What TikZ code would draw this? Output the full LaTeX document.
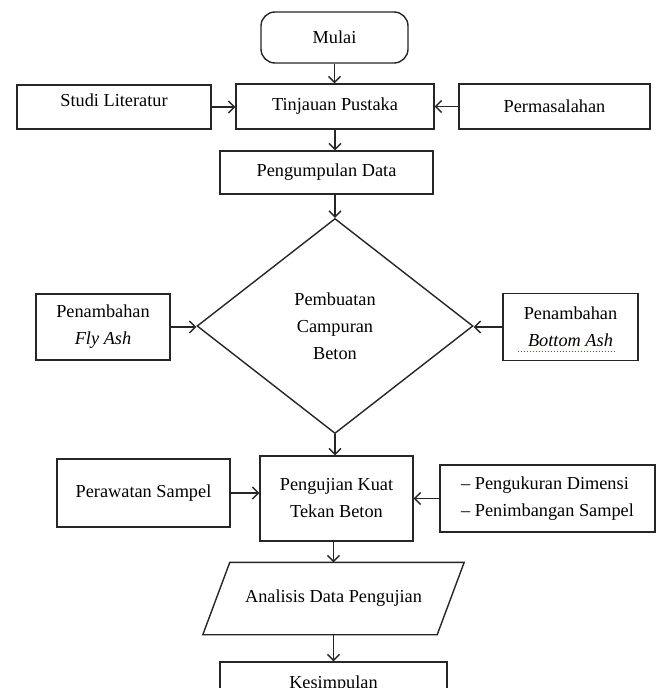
\documentclass[tikz,border=0pt]{standalone}
\usepackage{fontspec}
\setmainfont{Liberation Serif}
\usetikzlibrary{arrows.meta,shapes.geometric}
\begin{document}
\begin{tikzpicture}[x=1pt,y=-1pt,
  lin/.style={draw=black!85, line width=1.4pt},
  txt/.style={font=\fontsize{18.3}{27}\selectfont},
  box/.style={lin, txt, inner sep=2pt, align=center},
  arr/.style={draw=black!85, line width=1.4pt, -{Straight Barb[length=6pt,width=12pt]}},
]
\useasboundingbox (0,0) rectangle (660,688);
\clip (0,0) rectangle (660,688);
\fill[white] (0,0) rectangle (660,688);

\node[box, rounded corners=14pt, minimum width=147pt, minimum height=51pt] (mulai) at (334.5,37.5) {Mulai};
\node[box, minimum width=198pt, minimum height=45pt] (tin) at (335,106.5) {Tinjauan Pustaka};
\node[box, minimum width=194pt, minimum height=44pt, text depth=14pt] (stu) at (114,107) {Studi Literatur};
\node[box, minimum width=191pt, minimum height=45pt] (per) at (554.5,106.5) {Permasalahan};
\node[box, minimum width=213pt, minimum height=43pt] (pen) at (326.5,172.5) {Pengumpulan Data};
\node[box, diamond, minimum width=276pt, minimum height=215pt, inner sep=0pt] (dia) at (335,326) {Pembuatan\\Campuran\\Beton};
\node[box, minimum width=134pt, minimum height=66pt] (fly) at (103,327) {Penambahan\\\textit{Fly Ash}};
\node[box, minimum width=135pt, minimum height=67pt] (bot) at (570.5,327) {Penambahan\\\textit{Bottom Ash}};
\node[box, minimum width=153pt, minimum height=85pt] (uji) at (336.5,498.5) {Pengujian Kuat\\Tekan Beton};
\node[box, minimum width=173pt, minimum height=68pt] (raw) at (143.5,493) {Perawatan Sampel};
\node[box, align=left, minimum width=215pt, minimum height=67pt] (ukur) at (547.5,498.5) {– Pengukuran Dimensi\\– Penimbangan Sampel};
\node[txt, minimum width=234pt, minimum height=72pt, inner sep=0pt] (ana) at (333.5,598.5) {Analisis Data Pengujian};
\draw[lin] ([xshift=-13.5pt]ana.south west) -- ([xshift=13.5pt]ana.north west) -- ([xshift=13.5pt]ana.north east) -- ([xshift=-13.5pt]ana.south east) -- cycle;
\node[box, minimum width=227pt, minimum height=44pt] (kes) at (333.5,684) {Kesimpulan};

\draw[green!60!black, dotted, line width=1pt] ([xshift=-53pt,yshift=-24pt]bot.center) -- ([xshift=44pt,yshift=-24pt]bot.center);

\draw[arr] (mulai.south) -- (mulai.south |- tin.north);
\draw[arr] (stu.east) -- (stu.east -| tin.west);
\draw[arr] (per.west) -- (per.west -| tin.east);
\draw[arr] (tin.south) -- (tin.south |- pen.north);
\draw[arr] (dia.north |- pen.south) -- (dia.north);
\draw[arr] (fly.east) -- (fly.east -| dia.west);
\draw[arr] (bot.west) -- (bot.west -| dia.east);
\draw[arr] (dia.south) -- (dia.south |- uji.north);
\draw[arr] (raw.east) -- (raw.east -| uji.west);
\draw[arr] (ukur.west) -- (ukur.west -| uji.east);
\draw[arr] (ana.north |- uji.south) -- (ana.north);
\draw[arr] (ana.south) -- (ana.south |- kes.north);
\end{tikzpicture}
\end{document}
